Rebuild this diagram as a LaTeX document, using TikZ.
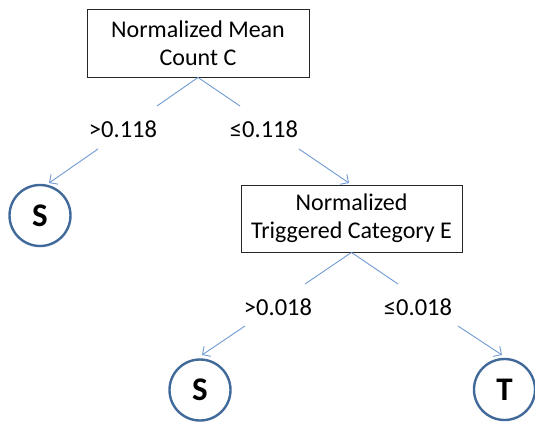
\documentclass[tikz,border=0pt]{standalone}
\usepackage{fontspec}
\setmainfont{Carlito}
\usetikzlibrary{arrows.meta}
\definecolor{linkblue}{HTML}{6F9AD2}
\definecolor{ringblue}{HTML}{41699A}
\tikzset{
  condbox/.style={draw=black!85, line width=0.9pt, fill=white, align=center, inner sep=0pt,
    font=\fontsize{24}{28}\selectfont},
  condlabel/.style={inner sep=0pt, font=\fontsize{24.5}{28}\selectfont},
  leafnode/.style={circle, draw=ringblue, line width=2.4pt, minimum size=61pt, inner sep=0pt,
    font=\fontsize{33}{36}\selectfont\bfseries},
  link/.style={draw=linkblue, line width=0.9pt},
  linkarrow/.style={link, -{Straight Barb[length=6pt,width=12pt,line width=0.9pt]}}
}
\begin{document}
\begin{tikzpicture}[x=1pt,y=-1pt]
\useasboundingbox (0,0) rectangle (535,421);
% nodes
\node[condbox, minimum width=222pt, minimum height=68pt] (b1) at (198,43) {Normalized Mean\\Count C};
\node[condlabel] (l1a) at (123,129) {>0.118};
\node[condlabel] (l1b) at (264,129) {≤0.118};
\node[leafnode] (s1) at (40,215.5) {S};
\node[condbox, minimum width=221pt, minimum height=67pt] (b2) at (351.5,218.5) {Normalized\\Triggered Category E};
\node[condlabel] (l2a) at (278,307) {>0.018};
\node[condlabel] (l2b) at (418,307) {≤0.018};
\node[leafnode] (s2) at (200,390) {S};
\node[leafnode] (t1) at (504.5,389.5) {T};
% connector end points
\coordinate (e1a) at (157,106);
\coordinate (e1b) at (240,106);
\coordinate (a1a) at (98,149);
\coordinate (a1b) at (299,149);
\coordinate (t1a) at (49,183);
\coordinate (t1b) at (349,183);
\coordinate (e2a) at (305,284);
\coordinate (e2b) at (398,284);
\coordinate (a2a) at (245,326);
\coordinate (a2b) at (458,326);
\coordinate (t2a) at (202,355);
\coordinate (t2b) at (502,355);
% connectors
\draw[link] (b1.south) -- (e1a);
\draw[link] (b1.south) -- (e1b);
\draw[linkarrow] (a1a) -- (t1a);
\draw[linkarrow] (a1b) -- (t1b);
\draw[link] (b2.south) -- (e2a);
\draw[link] (b2.south) -- (e2b);
\draw[linkarrow] (a2a) -- (t2a);
\draw[linkarrow] (a2b) -- (t2b);
\end{tikzpicture}
\end{document}
